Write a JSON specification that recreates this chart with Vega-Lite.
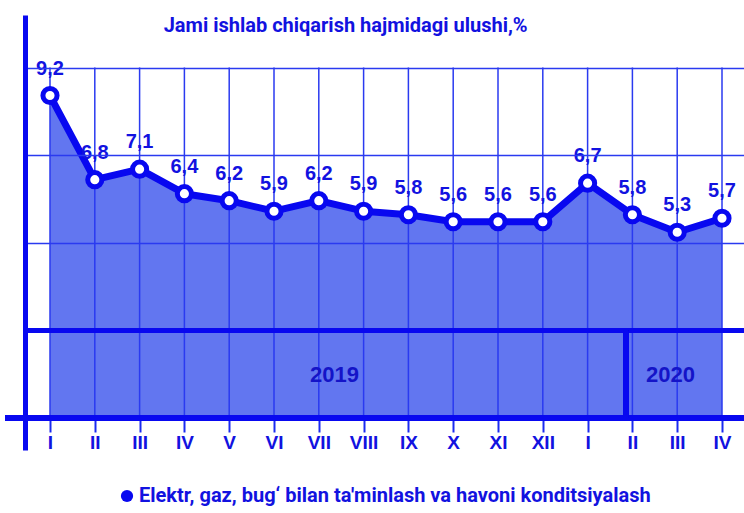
{
  "$schema": "https://vega.github.io/schema/vega-lite/v6.json",
  "autosize": "none",
  "padding": {"left": 25, "top": 15, "right": 0, "bottom": 63},
  "width": 719,
  "height": 435,
  "background": "white",
  "title": {
    "text": "Jami ishlab chiqarish hajmidagi ulushi,%",
    "anchor": "start",
    "dx": 161,
    "offset": -21,
    "baseline": "top",
    "font": "Roboto",
    "fontSize": 20,
    "fontWeight": "bold",
    "color": "#1212e0"
  },
  "data": {
    "values": [
      {"idx": 1, "month": "I", "value": 9.2, "series": "Elektr, gaz, bug‘ bilan ta'minlash va havoni konditsiyalash"},
      {"idx": 2, "month": "II", "value": 6.8, "series": "Elektr, gaz, bug‘ bilan ta'minlash va havoni konditsiyalash"},
      {"idx": 3, "month": "III", "value": 7.1, "series": "Elektr, gaz, bug‘ bilan ta'minlash va havoni konditsiyalash"},
      {"idx": 4, "month": "IV", "value": 6.4, "series": "Elektr, gaz, bug‘ bilan ta'minlash va havoni konditsiyalash"},
      {"idx": 5, "month": "V", "value": 6.2, "series": "Elektr, gaz, bug‘ bilan ta'minlash va havoni konditsiyalash"},
      {"idx": 6, "month": "VI", "value": 5.9, "series": "Elektr, gaz, bug‘ bilan ta'minlash va havoni konditsiyalash"},
      {"idx": 7, "month": "VII", "value": 6.2, "series": "Elektr, gaz, bug‘ bilan ta'minlash va havoni konditsiyalash"},
      {"idx": 8, "month": "VIII", "value": 5.9, "series": "Elektr, gaz, bug‘ bilan ta'minlash va havoni konditsiyalash"},
      {"idx": 9, "month": "IX", "value": 5.8, "series": "Elektr, gaz, bug‘ bilan ta'minlash va havoni konditsiyalash"},
      {"idx": 10, "month": "X", "value": 5.6, "series": "Elektr, gaz, bug‘ bilan ta'minlash va havoni konditsiyalash"},
      {"idx": 11, "month": "XI", "value": 5.6, "series": "Elektr, gaz, bug‘ bilan ta'minlash va havoni konditsiyalash"},
      {"idx": 12, "month": "XII", "value": 5.6, "series": "Elektr, gaz, bug‘ bilan ta'minlash va havoni konditsiyalash"},
      {"idx": 13, "month": "I", "value": 6.7, "series": "Elektr, gaz, bug‘ bilan ta'minlash va havoni konditsiyalash"},
      {"idx": 14, "month": "II", "value": 5.8, "series": "Elektr, gaz, bug‘ bilan ta'minlash va havoni konditsiyalash"},
      {"idx": 15, "month": "III", "value": 5.3, "series": "Elektr, gaz, bug‘ bilan ta'minlash va havoni konditsiyalash"},
      {"idx": 16, "month": "IV", "value": 5.7, "series": "Elektr, gaz, bug‘ bilan ta'minlash va havoni konditsiyalash"}
    ]
  },
  "layer": [
    {
      "mark": {"type": "area", "color": "#6276f0", "opacity": 1},
      "encoding": {
        "x": {
          "field": "idx",
          "type": "quantitative",
          "scale": {"domain": [0.442, 16.491], "nice": false, "zero": false},
          "axis": {
            "title": null,
            "values": [1, 2, 3, 4, 5, 6, 7, 8, 9, 10, 11, 12, 13, 14, 15, 16],
            "labelExpr": "['I','II','III','IV','V','VI','VII','VIII','IX','X','XI','XII','I','II','III','IV'][datum.value - 1]",
            "offset": -32,
            "domain": false,
            "grid": false,
            "ticks": true,
            "tickSize": 14,
            "tickWidth": 2,
            "tickColor": "#1a2af0",
            "labelFont": "Liberation Sans",
            "labelFontSize": 19,
            "labelFontWeight": "bold",
            "labelColor": "#1212e0",
            "labelPadding": 1,
            "labelBaseline": "top",
            "labelFlush": false,
            "labelOverlap": false
          }
        },
        "y": {
          "field": "value",
          "type": "quantitative",
          "scale": {"domain": [-0.913, 11.498], "nice": false, "zero": false},
          "axis": {
            "title": null,
            "labels": false,
            "ticks": false,
            "domain": true,
            "domainColor": "#0808f0",
            "domainWidth": 5,
            "grid": true,
            "values": [10, 7.5, 5],
            "gridColor": "#2a3af0",
            "gridWidth": 1.5,
            "zindex": 1
          }
        },
        "y2": {"datum": 0}
      }
    },
    {
      "mark": {"type": "rule", "color": "#2a3af0", "strokeWidth": 1.5},
      "encoding": {
        "x": {"field": "idx", "type": "quantitative"},
        "y": {"datum": 10},
        "y2": {"datum": 0}
      }
    },
    {
      "mark": {"type": "rule", "color": "#0808f0", "strokeWidth": 5},
      "encoding": {
        "y": {"datum": 2.5}
      }
    },
    {
      "mark": {"type": "rule", "color": "#0808f0", "strokeWidth": 5},
      "encoding": {
        "x": {"datum": 0},
        "x2": {"datum": 16.491},
        "y": {"datum": 0}
      }
    },
    {
      "mark": {"type": "rule", "color": "#0808f0", "strokeWidth": 5},
      "encoding": {
        "x": {"datum": 13.85},
        "y": {"datum": 2.5},
        "y2": {"datum": 0}
      }
    },
    {
      "data": {"values": [{"year": "2019", "mid": 7.35}, {"year": "2020", "mid": 14.85}]},
      "mark": {
        "type": "text",
        "font": "Liberation Sans",
        "fontSize": 22,
        "fontWeight": "bold",
        "color": "#1414c8",
        "baseline": "middle",
        "align": "center"
      },
      "encoding": {
        "x": {"field": "mid", "type": "quantitative"},
        "y": {"datum": 1.23},
        "text": {"field": "year"}
      }
    },
    {
      "mark": {"type": "line", "strokeWidth": 7, "strokeJoin": "round"},
      "encoding": {
        "x": {"field": "idx", "type": "quantitative"},
        "y": {"field": "value", "type": "quantitative"},
        "color": {
          "field": "series",
          "type": "nominal",
          "scale": {"range": ["#0808f0"]},
          "legend": {
            "title": null,
            "orient": "none",
            "legendX": 92,
            "legendY": 471,
            "symbolType": "circle",
            "symbolFillColor": "#0808f0",
            "symbolStrokeWidth": 0,
            "symbolSize": 150,
            "labelFont": "Roboto",
            "labelFontSize": 20,
            "labelFontWeight": "bold",
            "labelColor": "#1212e0",
            "labelLimit": 0,
            "labelOffset": 2
          }
        }
      }
    },
    {
      "mark": {"type": "point", "shape": "circle", "filled": true, "fill": "white", "stroke": "#0808f0", "strokeWidth": 5, "size": 200, "opacity": 1},
      "encoding": {
        "x": {"field": "idx", "type": "quantitative"},
        "y": {"field": "value", "type": "quantitative"}
      }
    },
    {
      "mark": {
        "type": "text",
        "dy": -27,
        "font": "Liberation Sans",
        "fontSize": 20,
        "fontWeight": "bold",
        "color": "#1212e0",
        "baseline": "middle"
      },
      "encoding": {
        "x": {"field": "idx", "type": "quantitative"},
        "y": {"field": "value", "type": "quantitative"},
        "text": {"field": "value", "type": "quantitative", "format": ".1f"}
      }
    }
  ],
  "config": {
    "view": {"stroke": null},
    "locale": {
      "number": {"decimal": ",", "thousands": " ", "grouping": [3], "currency": ["", ""]}
    }
  }
}
